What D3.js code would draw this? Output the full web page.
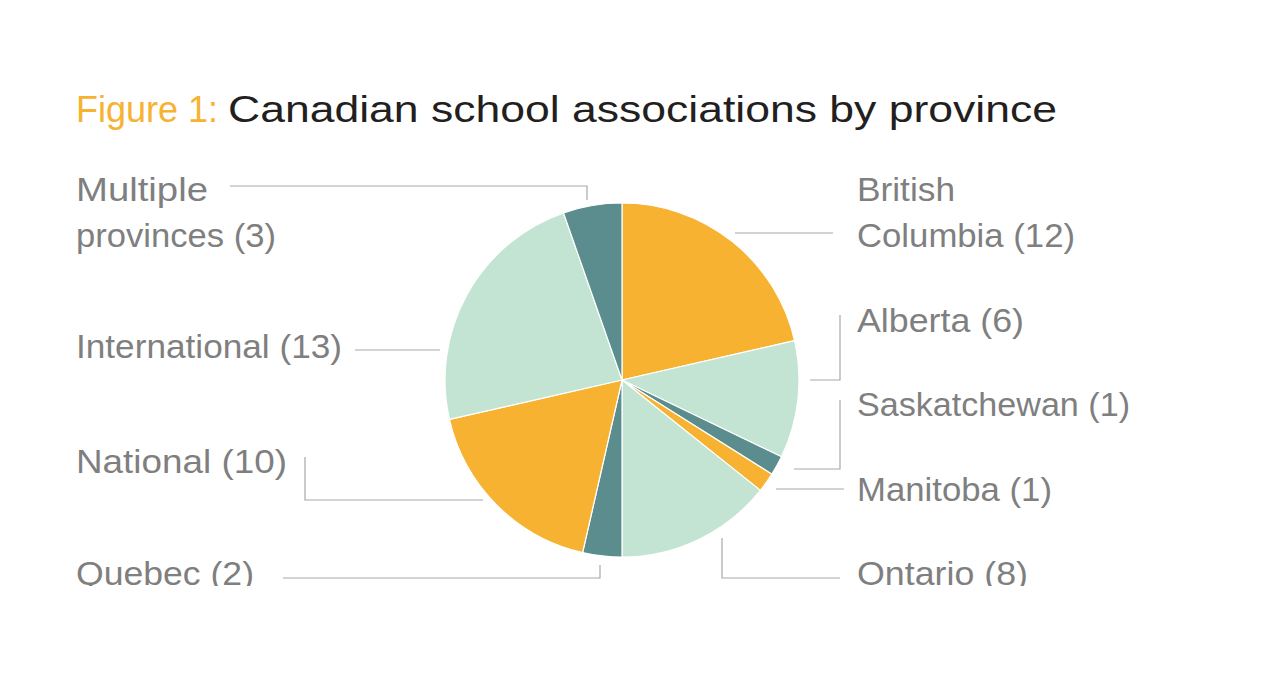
<!DOCTYPE html>
<html>
<head>
<meta charset="utf-8">
<script src="https://cdn.jsdelivr.net/npm/d3@7"></script>
<style>
  html, body { margin: 0; padding: 0; background: #fff; }
  svg { display: block; }
</style>
</head>
<body>
<svg id="chart" width="1280" height="689"></svg>
<script>
// ---- data ----
const categories = ["British Columbia", "Alberta", "Saskatchewan", "Manitoba", "Ontario", "Quebec", "National", "International", "Multiple provinces"];
const values = [12, 6, 1, 1, 8, 2, 10, 13, 3];
const labelLines = [
  ["British", "Columbia (12)"],
  ["Alberta (6)"],
  ["Saskatchewan (1)"],
  ["Manitoba (1)"],
  ["Ontario (8)"],
  ["Quebec (2)"],
  ["National (10)"],
  ["International (13)"],
  ["Multiple", "provinces (3)"]
];
const titlePrefix = "Figure 1:";
const titleText = "Canadian school associations by province";

// ---- layout (not data) ----
const colors = ["#F6B230", "#C3E4D2", "#5B8D8F", "#F6B230", "#C3E4D2", "#5B8D8F", "#F6B230", "#C3E4D2", "#5B8D8F"];
const cx = 622, cy = 380, R = 177;
const labelPos = [
  {x: 857, y: 201, w: [98, 218]},
  {x: 857, y: 332, w: [167]},
  {x: 857, y: 416, w: [273]},
  {x: 857, y: 501, w: [195]},
  {x: 857, y: 585, w: [171]},
  {x: 76,  y: 585, w: [178]},
  {x: 76,  y: 473, w: [211]},
  {x: 76,  y: 358, w: [266]},
  {x: 76,  y: 201, w: [132, 200]}
];
const leaders = [
  [[735, 233], [833, 233]],
  [[810, 380], [840, 380], [840, 315]],
  [[794, 469], [840, 469], [840, 400]],
  [[776, 489], [844, 489]],
  [[722, 538], [722, 578], [840, 578]],
  [[600, 565], [600, 578], [283, 578]],
  [[483, 500], [305, 500], [305, 457]],
  [[440, 350], [355, 350]],
  [[587, 200], [587, 186], [230, 186]]
];

const svg = d3.select("#chart");
svg.append("rect").attr("width", 1280).attr("height", 689).attr("fill", "#fff");

svg.append("defs").append("clipPath").attr("id", "clip")
  .append("rect").attr("x", 0).attr("y", 0).attr("width", 1280).attr("height", 586);

svg.append("text")
  .attr("x", 76).attr("y", 122)
  .attr("font-family", "Liberation Sans, Arial, sans-serif")
  .attr("font-size", 36)
  .attr("fill", "#F6B230")
  .attr("textLength", 142).attr("lengthAdjust", "spacingAndGlyphs")
  .text(titlePrefix);
svg.append("text")
  .attr("x", 228).attr("y", 122)
  .attr("font-family", "Liberation Sans, Arial, sans-serif")
  .attr("font-size", 36)
  .attr("fill", "#231F20")
  .attr("textLength", 829).attr("lengthAdjust", "spacingAndGlyphs")
  .text(titleText);

const g = svg.append("g").attr("clip-path", "url(#clip)");

const pie = d3.pie().sort(null).value(d => d)(values);
const arc = d3.arc().innerRadius(0).outerRadius(R);

g.append("g").attr("transform", `translate(${cx},${cy})`)
  .selectAll("path").data(pie).join("path")
  .attr("d", arc)
  .attr("fill", (d, i) => colors[i])
  .attr("stroke", "#fff")
  .attr("stroke-width", 1.2)
  .attr("stroke-linejoin", "round");

const line = d3.line();
g.append("g").selectAll("path").data(leaders).join("path")
  .attr("d", d => line(d))
  .attr("fill", "none")
  .attr("stroke", "#A8A8A8")
  .attr("stroke-width", 1.2);

const lab = g.append("g")
  .attr("font-family", "Liberation Sans, Arial, sans-serif")
  .attr("font-size", 32.5)
  .attr("fill", "#7F7F7F");
labelLines.forEach((lines, i) => {
  const p = labelPos[i];
  lines.forEach((t, j) => {
    lab.append("text")
      .attr("x", p.x).attr("y", p.y + j * 46)
      .attr("textLength", p.w[j]).attr("lengthAdjust", "spacingAndGlyphs")
      .text(t);
  });
});
</script>
</body>
</html>
